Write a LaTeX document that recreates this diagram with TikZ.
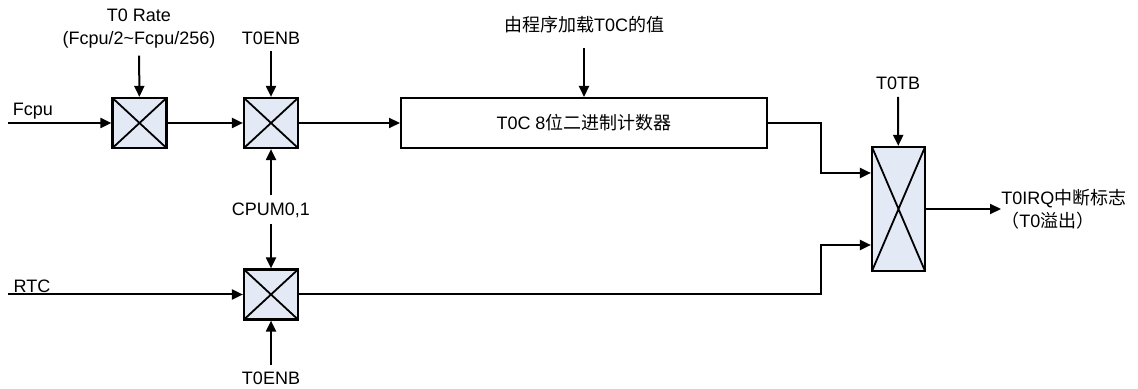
\documentclass[tikz,border=0pt]{standalone}
\usepackage{fontspec}
\setmainfont{Liberation Sans}
\newfontfamily\cjk{Noto Sans CJK SC}
\usepackage{tikz}
\usetikzlibrary{arrows.meta, positioning}
\definecolor{muxfill}{RGB}{228,234,245}

\begin{document}
\begin{tikzpicture}[x=1pt, y=1pt, on grid, font=\fontsize{9pt}{11.5pt}\selectfont, align=center,
    mux/.style={draw, line width=1.1pt, fill=muxfill, minimum width=27pt, minimum height=25pt, inner sep=0pt,
        path picture={\draw[line width=0.9pt] (path picture bounding box.north west) -- (path picture bounding box.south east)
                             (path picture bounding box.south west) -- (path picture bounding box.north east);}},
    counterbox/.style={draw, line width=1pt, minimum width=183pt, minimum height=25pt},
    arr/.style={line width=1pt, -{Triangle[length=5.5pt, width=5pt]}}]
    \useasboundingbox (0,0) rectangle (569,-194.5);

    \node[mux] (rate) at (69.75,-61.5)                                       {};
    \node[mux] (enb)  [right = 65.75pt of rate]                              {};
    \node[counterbox] (counter) [right = 156.5pt of enb]                     {T0C 8{\cjk 位二进制计数器}};
    \node[mux] (rtcmux) [below = 85.75pt of enb]                             {};
    \node[mux, minimum width=26.5pt, minimum height=62pt] (out) [right = 157.25pt of counter, yshift=-43pt] {};

    %labels
    \node (fcpu)     at (16.5,-55.5)  {Fcpu};
    \node (rtc)      at (16,-143)     {RTC};
    \node (ratelbl)  at (69.5,-14.5)  {T0 Rate\\(Fcpu/2\textasciitilde Fcpu/256)};
    \node (enblbl)   at (135.5,-19)   {T0ENB};
    \node (cpum)     at (135.5,-105)  {CPUM0,1};
    \node (enblbl2)  at (135.5,-189)  {T0ENB};
    \node (loadlbl)  at (292,-12.5)   {{\cjk 由程序加载}T0C{\cjk 的值}};
    \node (tblbl)    at (449,-41.75)  {T0TB};
    \node[anchor=west, align=left, inner sep=0pt] (irqlbl) at (500.5,-104.5) {T0IRQ{\cjk 中断标志}\\{\cjk （}T0{\cjk 溢出）}};
    \coordinate (fcpuin) at (4,-61.5);
    \coordinate (rtcin)  at (4,-147.25);

    \draw[arr] (fcpuin) -- (rate);
    \draw[arr] (rate) -- (enb);
    \draw[arr] (enb) -- (counter);
    \draw[arr] (ratelbl) -- (rate);
    \draw[arr] (enblbl) -- (enb);
    \draw[arr] (cpum) -- (enb);
    \draw[arr] (cpum) -- (rtcmux);
    \draw[arr] (enblbl2) -- (rtcmux);
    \draw[arr] (rtcin) -- (rtcmux);
    \draw[arr] (loadlbl) ++(0,-11.5) -- (counter);
    \draw[arr] (tblbl) -- (out);
    \draw[arr] (counter.east) -- ++(26.5,0) |- ([yshift=18pt]out.west);
    \draw[arr] (rtcmux.east) -- ++(261,0) |- ([yshift=-18pt]out.west);
    \draw[arr] (out) -- (irqlbl.west);
\end{tikzpicture}
\end{document}
